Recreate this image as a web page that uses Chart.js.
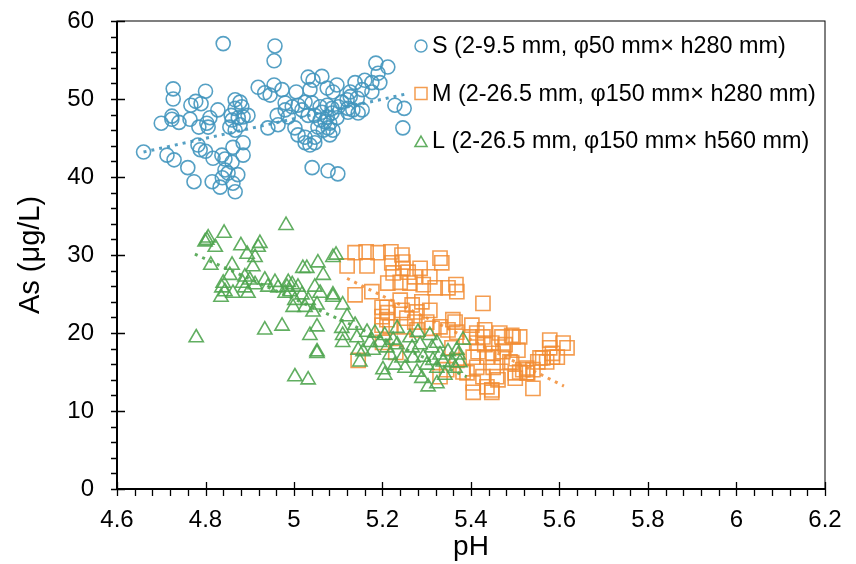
<!DOCTYPE html>
<html>
<head>
<meta charset="utf-8">
<script src="https://cdn.jsdelivr.net/npm/chart.js@4/dist/chart.umd.min.js"></script>
<style>
  html, body { margin: 0; padding: 0; background: #fff; }
  #wrap { width: 856px; height: 564px; }
</style>
</head>
<body>
<div id="wrap"><canvas id="chart"></canvas></div>
<script>
/* global Chart */

// tick labels
const xTicks = [4.6, 4.8, 5.0, 5.2, 5.4, 5.6, 5.8, 6.0, 6.2]
const yTicks = [0, 10, 20, 30, 40, 50, 60]

const seriesLabels = [
  'S (2-9.5 mm, φ50 mm× h280 mm)',
  'M (2-26.5 mm, φ150 mm× h280 mm)',
  'L (2-26.5 mm, φ150 mm× h560 mm)'
]

// S series: pH / As
const sPH = [4.66, 4.84, 4.957, 4.955, 4.727, 4.727, 4.80, 4.767, 4.778, 4.79, 4.70, 4.724, 4.724, 4.74, 4.765, 4.785, 4.803, 4.81, 4.806, 4.828,
  4.858, 4.867, 4.878, 4.882, 4.867, 4.86, 4.874, 4.885, 4.896, 4.855, 4.867, 4.878, 4.713, 4.729, 4.76, 4.774, 4.783, 4.788, 4.80, 4.817,
  4.837, 4.815, 4.833, 4.844, 4.844, 4.86, 4.862, 4.873, 4.862, 4.867, 4.885, 4.885, 4.851, 4.838, 5.185, 5.212, 5.19, 5.032, 5.063, 5.043,
  4.955, 4.934, 4.946, 4.973, 5.005, 5.036, 5.075, 5.088, 5.097, 5.127, 5.138, 5.16, 5.176, 5.194, 5.176, 5.154, 5.127, 5.143, 4.98, 4.996,
  5.009, 5.025, 5.041, 5.059, 5.075, 5.086, 5.10, 5.122, 5.133, 5.145, 5.122, 4.962, 4.98, 4.987, 5.018, 5.032, 5.047, 5.063, 5.075, 5.086,
  5.059, 5.07, 5.081, 5.097, 5.077, 5.088, 5.066, 5.054, 4.941, 4.964, 5.002, 5.009, 5.025, 5.047, 5.025, 5.036, 5.047, 5.081, 5.041, 5.077,
  5.099, 5.228, 5.249, 5.246, 5.108, 5.12, 5.154, 4.919]
const sAs = [43.2, 57.1, 56.8, 54.9, 51.3, 50.0, 51.0, 49.2, 49.7, 49.4, 46.9, 47.8, 47.4, 47.0, 47.4, 46.4, 46.9, 47.6, 46.4, 48.6,
  47.9, 49.9, 49.6, 49.0, 48.8, 47.3, 47.6, 47.7, 47.9, 46.4, 46.0, 46.7, 42.8, 42.2, 41.2, 39.4, 44.1, 43.5, 43.3, 42.4,
  42.8, 39.4, 38.7, 42.3, 40.9, 41.9, 43.8, 40.3, 39.2, 38.1, 44.4, 42.8, 40.5, 39.9, 54.6, 54.1, 53.3, 52.8, 52.9, 52.4,
  51.8, 50.8, 50.5, 51.2, 50.9, 51.2, 51.4, 50.9, 51.8, 50.9, 52.1, 52.4, 52.1, 52.1, 50.9, 51.2, 50.3, 50.1, 49.5, 49.0,
  49.2, 49.6, 49.5, 49.0, 49.2, 48.8, 49.0, 48.8, 48.6, 48.2, 48.3, 47.9, 48.6, 47.7, 48.6, 47.9, 47.9, 48.3, 47.7, 48.2,
  47.3, 47.1, 46.9, 47.6, 46.3, 46.0, 46.0, 46.4, 46.3, 46.7, 46.3, 45.4, 45.1, 45.1, 44.4, 44.1, 44.4, 45.4, 41.2, 40.8,
  40.4, 49.2, 48.8, 46.3, 49.6, 49.9, 48.6, 51.5]

// M series
const mPH = [5.12, 5.138, 5.163, 5.165, 5.19, 5.219, 5.221, 5.244, 5.246, 5.246, 5.224, 5.258, 5.285, 5.273, 5.307, 5.33, 5.334, 5.138, 5.176, 5.212,
  5.24, 5.262, 5.292, 5.319, 5.348, 5.368, 5.366, 5.427, 5.21, 5.212, 5.24, 5.244, 5.267, 5.278, 5.289, 5.307, 5.21, 5.255, 5.273, 5.30,
  5.217, 5.251, 5.278, 5.312, 5.33, 5.359, 5.402, 5.348, 5.368, 5.398, 5.413, 5.427, 5.431, 5.465, 5.47, 5.495, 5.51, 5.413, 5.431, 5.447,
  5.477, 5.506, 5.578, 5.608, 5.617, 5.578, 5.584, 5.562, 5.551, 5.54, 5.517, 5.526, 5.50, 5.492, 5.47, 5.45, 5.436, 5.416, 5.405, 5.54,
  5.405, 5.405, 5.436, 5.447, 5.427, 5.458, 5.391, 5.345, 5.33, 5.357, 5.145, 5.199, 5.199, 5.199, 5.364, 5.492, 5.584, 5.595, 5.556, 5.571,
  5.526, 5.51, 5.528, 5.50, 5.488, 5.472, 5.45, 5.461, 5.447, 5.413, 5.382, 5.368, 5.20, 5.23]
const mAs = [28.6, 30.3, 30.4, 28.6, 30.3, 30.4, 29.0, 30.0, 29.1, 28.3, 27.7, 27.8, 28.3, 27.2, 27.2, 29.6, 29.0, 24.9, 25.3, 26.4,
  26.5, 26.4, 26.2, 25.8, 25.8, 25.3, 26.2, 23.8, 23.3, 22.6, 24.2, 22.9, 23.6, 22.7, 24.0, 22.9, 21.7, 21.9, 21.4, 21.4,
  20.8, 20.8, 20.4, 20.6, 20.8, 21.7, 21.0, 20.4, 20.1, 19.5, 20.0, 19.5, 20.4, 20.0, 19.5, 19.5, 19.5, 18.7, 18.5, 18.7,
  18.5, 17.8, 19.1, 18.7, 18.1, 18.1, 16.9, 16.8, 16.3, 15.3, 15.3, 14.9, 14.9, 16.2, 16.9, 17.4, 16.9, 17.6, 16.9, 12.9,
  13.6, 12.4, 13.1, 12.7, 14.4, 14.4, 14.9, 15.3, 14.4, 18.1, 16.5, 23.3, 22.1, 21.0, 21.4, 19.7, 17.4, 16.9, 16.8, 16.3,
  15.5, 15.0, 14.9, 14.2, 16.3, 17.6, 15.6, 14.0, 12.4, 15.6, 15.0, 16.5, 18.8, 17.5]

// L series
const lPH = [4.982, 4.842, 4.803, 4.799, 4.806, 4.822, 4.88, 4.923, 4.919, 4.894, 4.912, 4.812, 4.86, 4.907, 4.855, 4.889, 4.90, 4.84, 4.837, 4.844,
  4.835, 4.862, 4.884, 4.889, 4.896, 4.912, 4.934, 4.941, 4.957, 4.964, 4.987, 4.984, 4.991, 4.996, 4.98, 5.009, 5.02, 5.029, 5.054, 5.066,
  5.088, 5.047, 5.059, 5.018, 5.032, 5.002, 4.998, 5.025, 5.043, 5.052, 4.934, 4.973, 4.779, 5.052, 5.036, 5.052, 5.052, 5.002, 5.032, 5.095,
  5.088, 5.11, 5.12, 5.108, 5.11, 5.11, 5.138, 5.142, 5.145, 5.149, 5.165, 5.172, 5.183, 5.194, 5.205, 5.21, 5.233, 5.224, 5.217, 5.201,
  5.205, 5.228, 5.244, 5.251, 5.262, 5.267, 5.28, 5.269, 5.278, 5.289, 5.303, 5.285, 5.292, 5.30, 5.312, 5.323, 5.314, 5.323, 5.33, 5.337,
  5.341, 5.348, 5.357, 5.364, 5.371, 5.233, 5.179, 5.156, 5.307, 5.323, 5.382, 5.368, 5.375, 5.088]
const lAs = [33.8, 32.8, 31.9, 31.7, 32.2, 31.0, 31.2, 31.5, 31.0, 30.1, 29.7, 28.7, 28.7, 28.5, 27.4, 27.2, 26.8, 26.4, 25.8, 25.3,
  24.6, 25.1, 26.4, 25.8, 25.1, 26.2, 26.8, 25.9, 26.5, 25.8, 26.5, 25.9, 25.3, 26.2, 25.1, 25.9, 28.3, 28.3, 29.0, 27.4,
  29.7, 25.9, 25.1, 24.9, 24.2, 24.2, 23.3, 23.3, 22.7, 23.6, 20.4, 20.9, 19.4, 20.8, 19.7, 17.4, 17.6, 14.4, 14.0, 30.0,
  24.9, 23.6, 22.1, 20.6, 19.7, 18.8, 21.0, 19.4, 17.8, 16.3, 20.1, 18.8, 20.0, 18.8, 19.7, 18.1, 20.6, 19.1, 17.2, 15.3,
  14.6, 15.9, 16.8, 15.5, 19.4, 18.1, 20.1, 16.8, 15.0, 14.2, 13.1, 18.5, 16.9, 15.9, 18.1, 18.7, 16.5, 15.5, 17.2, 16.3,
  14.6, 17.6, 16.2, 15.5, 17.2, 18.5, 17.8, 17.6, 19.7, 13.5, 19.1, 17.8, 16.2, 24.6]

// linear trend lines (end points)
const sTrendPH = [4.66, 5.25]
const sTrendAs = [43.2, 50.6]
const mTrendPH = [5.12, 5.61]
const mTrendAs = [27.0, 13.2]
const lTrendPH = [4.776, 5.39]
const lTrendAs = [30.1, 14.4]

const blue = 'rgba(66, 150, 190, 0.9)'
const orange = 'rgba(242, 140, 50, 0.85)'
const green = 'rgba(80, 165, 80, 0.9)'
const FONT = "'Liberation Sans', Arial, sans-serif"

const toXY = (xs, ys) => xs.map((x, i) => ({ x, y: ys[i] }))

function scatterSet (label, xs, ys, color, style, radius, order) {
  return {
    type: 'scatter',
    label,
    data: toXY(xs, ys),
    pointStyle: style,
    pointRadius: radius,
    pointHoverRadius: radius,
    pointBorderWidth: 1.6,
    borderColor: color,
    backgroundColor: 'rgba(0,0,0,0)',
    order
  }
}

function trendSet (xs, ys, color) {
  return {
    type: 'line',
    label: '',
    data: toXY(xs, ys),
    borderColor: color,
    borderWidth: 3,
    borderDash: [3, 5],
    pointRadius: 0,
    fill: false,
    order: 0
  }
}

// no automatic label padding, the chart area is set by layout padding only
const noPad = (s) => {
  s.paddingTop = 0
  s.paddingBottom = 0
  s.paddingLeft = 0
  s.paddingRight = 0
}

// axes frame, ticks and the legend
const framePlugin = {
  id: 'frame',
  beforeDatasetsDraw (chart) {
    const { ctx, chartArea: a, scales } = chart
    ctx.save()
    ctx.strokeStyle = '#000'
    ctx.lineWidth = 1
    ctx.strokeRect(a.left, a.top, a.right - a.left, a.bottom - a.top)
    ctx.lineWidth = 2
    ctx.beginPath()
    ctx.moveTo(a.left, a.top)
    ctx.lineTo(a.left, a.bottom)
    ctx.lineTo(a.right, a.bottom)
    ctx.stroke()
    ctx.lineWidth = 1.3
    ctx.beginPath()
    for (let v = 0; v <= 60.001; v += 2) {
      const y = Math.round(scales.y.getPixelForValue(v)) + 0.5
      const major = Math.abs(v % 10) < 0.01
      ctx.moveTo(a.left - 6, y)
      ctx.lineTo(major ? a.left + 8 : a.left, y)
    }
    for (let i = 0; i <= 40; i++) {
      const v = 4.6 + i * 0.04
      const x = Math.round(scales.x.getPixelForValue(v)) + 0.5
      const major = i % 5 === 0
      ctx.moveTo(x, a.bottom + 7)
      ctx.lineTo(x, major ? a.bottom - 7 : a.bottom)
    }
    ctx.stroke()
    ctx.restore()
  },
  afterDraw (chart) {
    const { ctx, chartArea: a } = chart
    const styles = [['circle', 6], ['rect', 8.5], ['triangle', 7]]
    const x0 = a.right - 404
    ctx.save()
    ctx.font = '23.4px ' + FONT
    ctx.textBaseline = 'middle'
    seriesLabels.forEach((lab, i) => {
      const ds = chart.data.datasets[i]
      const y = a.top + 25 + i * 47.5
      ctx.strokeStyle = ds.borderColor
      ctx.lineWidth = 1.5
      ctx.fillStyle = 'rgba(0,0,0,0)'
      Chart.helpers.drawPoint(ctx, { pointStyle: styles[i][0], radius: styles[i][1], rotation: 0, borderWidth: 1.5 }, x0, y + (i === 2 ? 2 : 0))
      ctx.fillStyle = '#000'
      ctx.fillText(lab, x0 + 11, y + 1)
    })
    ctx.restore()
  }
}

window.addEventListener('load', function () {
  const ctx = document.getElementById('chart').getContext('2d')
  // eslint-disable-next-line no-unused-vars
  const chart = new Chart(ctx, {
    data: {
      datasets: [
        scatterSet(seriesLabels[0], sPH, sAs, blue, 'circle', 7, 3),
        scatterSet(seriesLabels[1], mPH, mAs, orange, 'rect', 10, 2),
        scatterSet(seriesLabels[2], lPH, lAs, green, 'triangle', 8.2, 1),
        trendSet(sTrendPH, sTrendAs, blue),
        trendSet(mTrendPH, mTrendAs, orange),
        trendSet(lTrendPH, lTrendAs, green)
      ]
    },
    options: {
      responsive: true,
      maintainAspectRatio: false,
      animation: false,
      events: [],
      layout: { padding: { top: 21, right: 31, bottom: 0, left: 0 } },
      plugins: {
        legend: { display: false },
        tooltip: { enabled: false }
      },
      scales: {
        x: {
          type: 'linear',
          min: 4.6,
          max: 6.2,
          afterBuildTicks: (s) => { s.ticks = xTicks.map(v => ({ value: v })) },
          afterFit: (s) => { s.height = 75; noPad(s) },
          grid: { display: false, drawTicks: false },
          border: { display: false },
          ticks: {
            padding: 17,
            color: '#000',
            font: { family: FONT, size: 24 },
            maxRotation: 0,
            callback: (v) => String(+Number(v).toFixed(1))
          },
          title: {
            display: true,
            text: 'pH',
            color: '#000',
            font: { family: FONT, size: 28 },
            padding: { top: 0, bottom: 0 }
          }
        },
        y: {
          min: 0,
          max: 60,
          afterBuildTicks: (s) => { s.ticks = yTicks.map(v => ({ value: v })) },
          afterFit: (s) => { s.width = 117; noPad(s) },
          grid: { display: false, drawTicks: false },
          border: { display: false },
          ticks: {
            padding: 23,
            color: '#000',
            font: { family: FONT, size: 24 }
          },
          title: {
            display: true,
            text: 'As (μg/L)',
            color: '#000',
            font: { family: FONT, size: 29 },
            padding: { top: 14, bottom: 0 }
          }
        }
      }
    },
    plugins: [framePlugin]
  })
})
</script>
</body>
</html>
